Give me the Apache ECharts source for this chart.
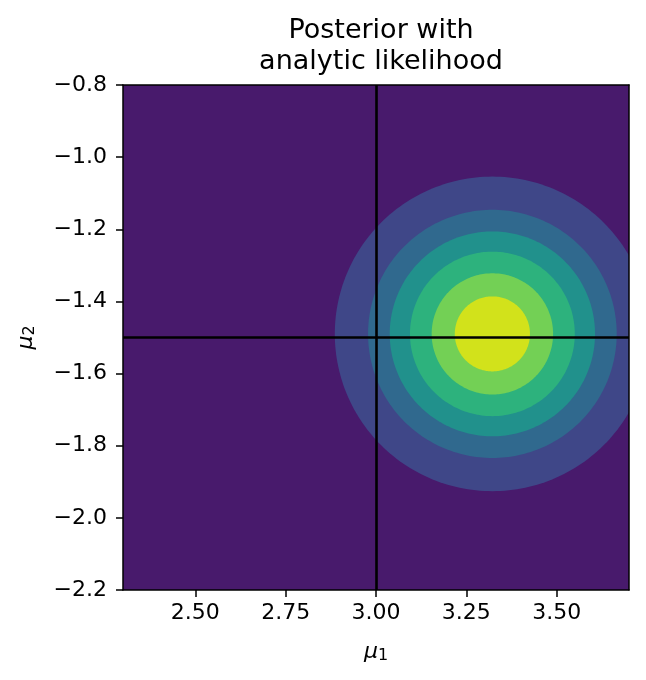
<!DOCTYPE html>
<html>
<head>
<meta charset="utf-8">
<script src="https://cdn.jsdelivr.net/npm/echarts@6/dist/echarts.min.js"></script>
<style>html,body{margin:0;padding:0;background:#fff;}#chart{width:646px;height:680px;}</style>
</head>
<body>
<div id="chart"></div>
<script>
// ---- data ----
const titleText = 'Posterior with\nanalytic likelihood';
const mu1Range = [2.3, 3.7];
const mu2Range = [-2.2, -0.8];
const mu1Ticks = [2.5, 2.75, 3.0, 3.25, 3.5];
const mu2Ticks = [-2.2, -2.0, -1.8, -1.6, -1.4, -1.2, -1.0, -0.8];
// filled-contour bands, lowest level first (viridis)
const levelColors = ['#481a6c', '#3f4788', '#30698e', '#21918c', '#2db27d', '#73d055', '#d2e21b'];
// centre of posterior and outer radius (in mu units) of each band above the lowest
const contourCenter = [3.322, -1.49];
const contourRadii = [0.436, 0.344, 0.284, 0.228, 0.168, 0.104];
// true parameter values (black lines)
const trueMu1 = 3.0;
const trueMu2 = -1.5;

const font = 'DejaVu Sans';
const bandData = contourRadii.map((r, i) => [contourCenter[0], contourCenter[1], r, i + 1]);

const chart = echarts.init(document.getElementById('chart'), null, {renderer: 'canvas'});
const minus = v => (v < 0 ? '\u2212' : '') + Math.abs(v);
const spine = {show: true, lineStyle: {color: '#000', width: 1.5}};
const tick = {show: true, length: 7, lineStyle: {color: '#000', width: 1.5}};

chart.setOption({
  animation: false,
  backgroundColor: '#fff',
  title: {
    text: titleText,
    left: 376,
    top: 10,
    textAlign: 'center',
    textStyle: {fontFamily: font, fontSize: 27, fontWeight: 'normal', color: '#000', lineHeight: 31}
  },
  grid: {
    left: 123, right: 17, top: 85, bottom: 90,
    show: true, backgroundColor: levelColors[0], borderWidth: 0,
    outerBoundsMode: 'none', containLabel: false
  },
  xAxis: [{
    type: 'value', min: mu1Range[0], max: mu1Range[1], position: 'bottom', z: 10,
    axisLine: spine, splitLine: {show: false},
    axisTick: Object.assign({customValues: mu1Ticks}, tick),
    axisLabel: {customValues: mu1Ticks, margin: 12, color: '#000', fontFamily: font, fontSize: 22,
      formatter: v => (v < 0 ? '\u2212' : '') + Math.abs(v).toFixed(2)},
    name: '{a|\u03bc}{b|1}', nameLocation: 'middle', nameGap: 50,
    nameTextStyle: {rich: {
      a: {fontFamily: font, fontStyle: 'italic', fontSize: 22, color: '#000'},
      b: {fontFamily: font, fontSize: 16, color: '#000', verticalAlign: 'bottom', padding: [8, 0, 0, 0]}
    }}
  }, {
    type: 'value', min: mu1Range[0], max: mu1Range[1], position: 'top', z: 10,
    axisLine: spine, axisTick: {show: false}, axisLabel: {show: false}, splitLine: {show: false}
  }],
  yAxis: [{
    type: 'value', min: mu2Range[0], max: mu2Range[1], position: 'left', z: 10,
    axisLine: spine, splitLine: {show: false},
    axisTick: Object.assign({customValues: mu2Ticks}, tick),
    axisLabel: {customValues: mu2Ticks, margin: 16, color: '#000', fontFamily: font, fontSize: 22,
      formatter: v => (v < 0 ? '\u2212' : '') + Math.abs(v).toFixed(1)},
    name: '{a|\u03bc}{b|2}', nameLocation: 'middle', nameGap: 85, nameRotate: 90,
    nameTextStyle: {rich: {
      a: {fontFamily: font, fontStyle: 'italic', fontSize: 22, color: '#000'},
      b: {fontFamily: font, fontSize: 16, color: '#000', verticalAlign: 'bottom', padding: [8, 0, 0, 0]}
    }}
  }, {
    type: 'value', min: mu2Range[0], max: mu2Range[1], position: 'right', z: 10,
    axisLine: spine, axisTick: {show: false}, axisLabel: {show: false}, splitLine: {show: false}
  }],
  series: [{
    type: 'custom',
    clip: true,
    silent: true,
    z: 2,
    xAxisIndex: 0, yAxisIndex: 0,
    encode: {x: 0, y: 1},
    data: bandData,
    renderItem: function (params, api) {
      const c = api.coord([api.value(0), api.value(1)]);
      const s = api.size([api.value(2), api.value(2)]);
      const pts = [];
      const n = 240;
      for (let k = 0; k < n; k++) {
        const t = 2 * Math.PI * k / n;
        pts.push([c[0] + s[0] * Math.cos(t), c[1] + s[1] * Math.sin(t)]);
      }
      return {type: 'polygon', shape: {points: pts}, style: {fill: levelColors[api.value(3)]}};
    }
  }, {
    type: 'line',
    xAxisIndex: 0, yAxisIndex: 0,
    data: [],
    silent: true,
    z: 5,
    markLine: {
      silent: true, symbol: ['none', 'none'], label: {show: false},
      lineStyle: {color: '#000', width: 2.6, type: 'solid'},
      data: [{xAxis: trueMu1}, {yAxis: trueMu2}]
    }
  }]
});
</script>
</body>
</html>
